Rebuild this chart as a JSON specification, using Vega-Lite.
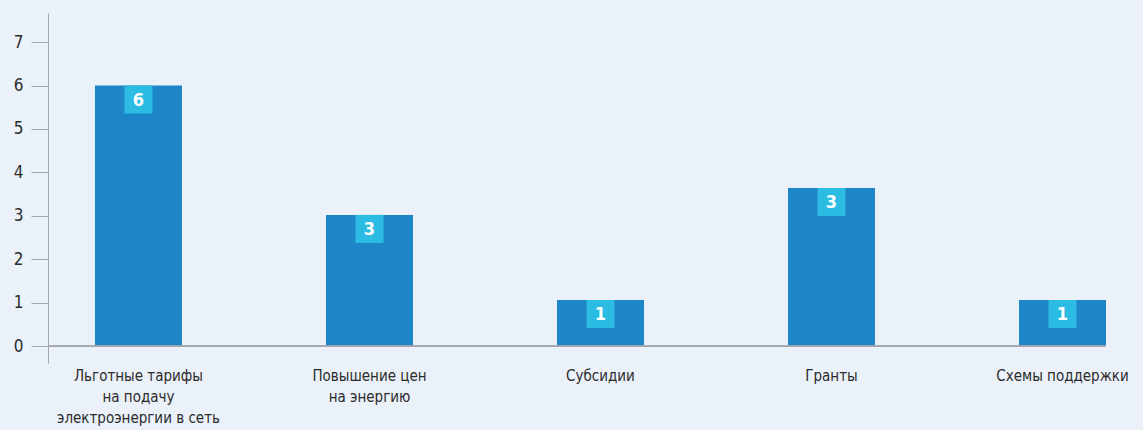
{
  "$schema": "https://vega.github.io/schema/vega-lite/v6.json",
  "width": 1058,
  "height": 350,
  "autosize": {"type": "none"},
  "padding": {"left": 48, "top": 13, "right": 37, "bottom": 67},
  "background": "#eaf1f9",
  "config": {
    "view": {"stroke": null},
    "font": "Liberation Sans Narrow, DejaVu Sans Condensed, sans-serif"
  },
  "data": {
    "values": [
      {"category": "Льготные тарифы на подачу электроэнергии в сеть", "value": 6.0, "label": "6"},
      {"category": "Повышение цен на энергию", "value": 3.02, "label": "3"},
      {"category": "Субсидии", "value": 1.06, "label": "1"},
      {"category": "Гранты", "value": 3.64, "label": "3"},
      {"category": "Схемы поддержки", "value": 1.06, "label": "1"}
    ]
  },
  "layer": [
    {
      "mark": {"type": "bar", "color": "#1e86c7"},
      "encoding": {
        "x": {
          "field": "category",
          "type": "nominal",
          "sort": null,
          "scale": {"paddingInner": 0.6234, "paddingOuter": 0.1017, "align": 1},
          "axis": {
            "title": null,
            "domain": false,
            "ticks": false,
            "labelAngle": 0,
            "labelPadding": 5,
            "labelFontSize": 15,
            "labelColor": "#2b2b2b",
            "labelLineHeight": 21,
            "labelBaseline": "top",
            "labelExpr": "datum.label == 'Льготные тарифы на подачу электроэнергии в сеть' ? ['Льготные тарифы', 'на подачу', 'электроэнергии в сеть'] : datum.label == 'Повышение цен на энергию' ? ['Повышение цен', 'на энергию'] : datum.label"
          }
        },
        "y": {
          "field": "value",
          "type": "quantitative",
          "scale": {"domain": [-0.39, 7.67], "nice": false, "zero": false},
          "axis": {
            "title": null,
            "values": [0, 1, 2, 3, 4, 5, 6, 7],
            "grid": false,
            "domainColor": "#a3a7ae",
            "tickColor": "#a3a7ae",
            "tickSize": 17,
            "labelPadding": 8,
            "labelFontSize": 17,
            "labelColor": "#2b2b2b"
          }
        }
      }
    },
    {
      "mark": {"type": "rule", "color": "#a3a7ae", "strokeWidth": 1},
      "encoding": {"y": {"datum": 0, "type": "quantitative"}}
    },
    {
      "mark": {"type": "square", "color": "#2bbbe3", "opacity": 1, "size": 784, "yOffset": 14},
      "encoding": {
        "x": {"field": "category", "type": "nominal", "sort": null},
        "y": {"field": "value", "type": "quantitative"}
      }
    },
    {
      "mark": {"type": "text", "color": "#ffffff", "fontSize": 18, "fontWeight": "bold", "baseline": "middle", "align": "center", "yOffset": 15},
      "encoding": {
        "x": {"field": "category", "type": "nominal", "sort": null},
        "y": {"field": "value", "type": "quantitative"},
        "text": {"field": "label"}
      }
    }
  ]
}
